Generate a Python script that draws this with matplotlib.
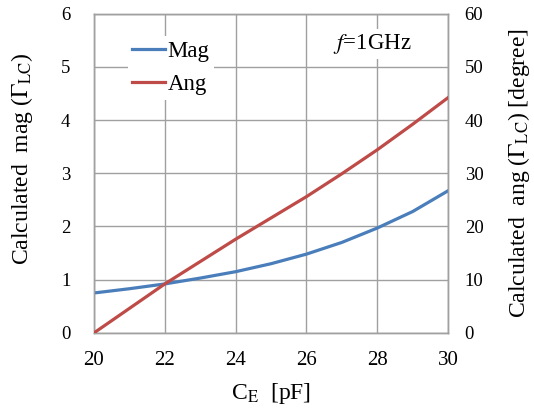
import matplotlib
matplotlib.use("Agg")
import matplotlib.pyplot as plt

plt.rcParams["font.family"] = ["Liberation Serif", "DejaVu Serif"]
plt.rcParams["mathtext.fontset"] = "stix"

# Emitter capacitance sweep and computed reflection coefficient
ce_pf = [20, 21, 22, 23, 24, 25, 26, 27, 28, 29, 30]
mag = [0.75, 0.83, 0.92, 1.03, 1.15, 1.30, 1.48, 1.70, 1.97, 2.28, 2.67]
ang_deg = [0.0, 4.6, 9.2, 13.4, 17.6, 21.6, 25.6, 29.9, 34.4, 39.2, 44.2]

x_ticks = [20, 22, 24, 26, 28, 30]
mag_ticks = [0, 1, 2, 3, 4, 5, 6]
ang_ticks = [0, 10, 20, 30, 40, 50, 60]

blue = "#4A7EBB"
red = "#BE4B48"
grid_c = "#A0A0A0"

fig = plt.figure(figsize=(5.34, 4.12), dpi=100)
ax = fig.add_axes([0.176, 0.192, 0.663, 0.775])
ax2 = ax.twinx()

l1, = ax.plot(ce_pf, mag, color=blue, lw=2.3, label="Mag", zorder=3,
              solid_joinstyle="round")
l2, = ax2.plot(ce_pf, ang_deg, color=red, lw=2.3, label="Ang", zorder=3,
               solid_joinstyle="round")

ax.set_xlim(20, 30)
ax.set_ylim(0, 6)
ax2.set_ylim(0, 60)
ax.set_xticks(x_ticks)
ax.set_yticks(mag_ticks)
ax2.set_yticks(ang_ticks)

ax.grid(True, color=grid_c, lw=1.0)
ax.set_axisbelow(True)
for a in (ax, ax2):
    for s in a.spines.values():
        s.set_color(grid_c)
        s.set_linewidth(1.0)
    a.tick_params(length=0)

ax.tick_params(axis="y", labelsize=13.5, pad=17)
ax.tick_params(axis="x", labelsize=15, pad=13)
ax2.tick_params(axis="y", labelsize=13.5, pad=12)

ax.set_xlabel(r"C$_{\mathrm{E}}$  [pF]", fontsize=17, labelpad=8)
ax.set_ylabel(r"Calculated  mag ($\Gamma_{\mathrm{LC}}$)", fontsize=17)
ax.yaxis.set_label_coords(-0.168, 0.545)
ax2.set_ylabel(r"Calculated  ang ($\Gamma_{\mathrm{LC}}$) [degree]", fontsize=17, labelpad=16)

leg = ax2.legend(handles=[l1, l2], loc="upper left", bbox_to_anchor=(0.095, 0.93),
                 frameon=True, fontsize=16.5, handlelength=1.45, handletextpad=0.1,
                 labelspacing=0.55, borderpad=0.2, borderaxespad=0.0)
leg.get_frame().set_edgecolor("none")
leg.get_frame().set_facecolor("white")
leg.get_frame().set_alpha(1.0)

ax2.text(0.785, 0.905, r"$f$=1GHz", transform=ax.transAxes, fontsize=16.5,
         ha="center", va="center",
         bbox=dict(facecolor="white", edgecolor="none", pad=2))

fig.savefig("out.png", dpi=100)
